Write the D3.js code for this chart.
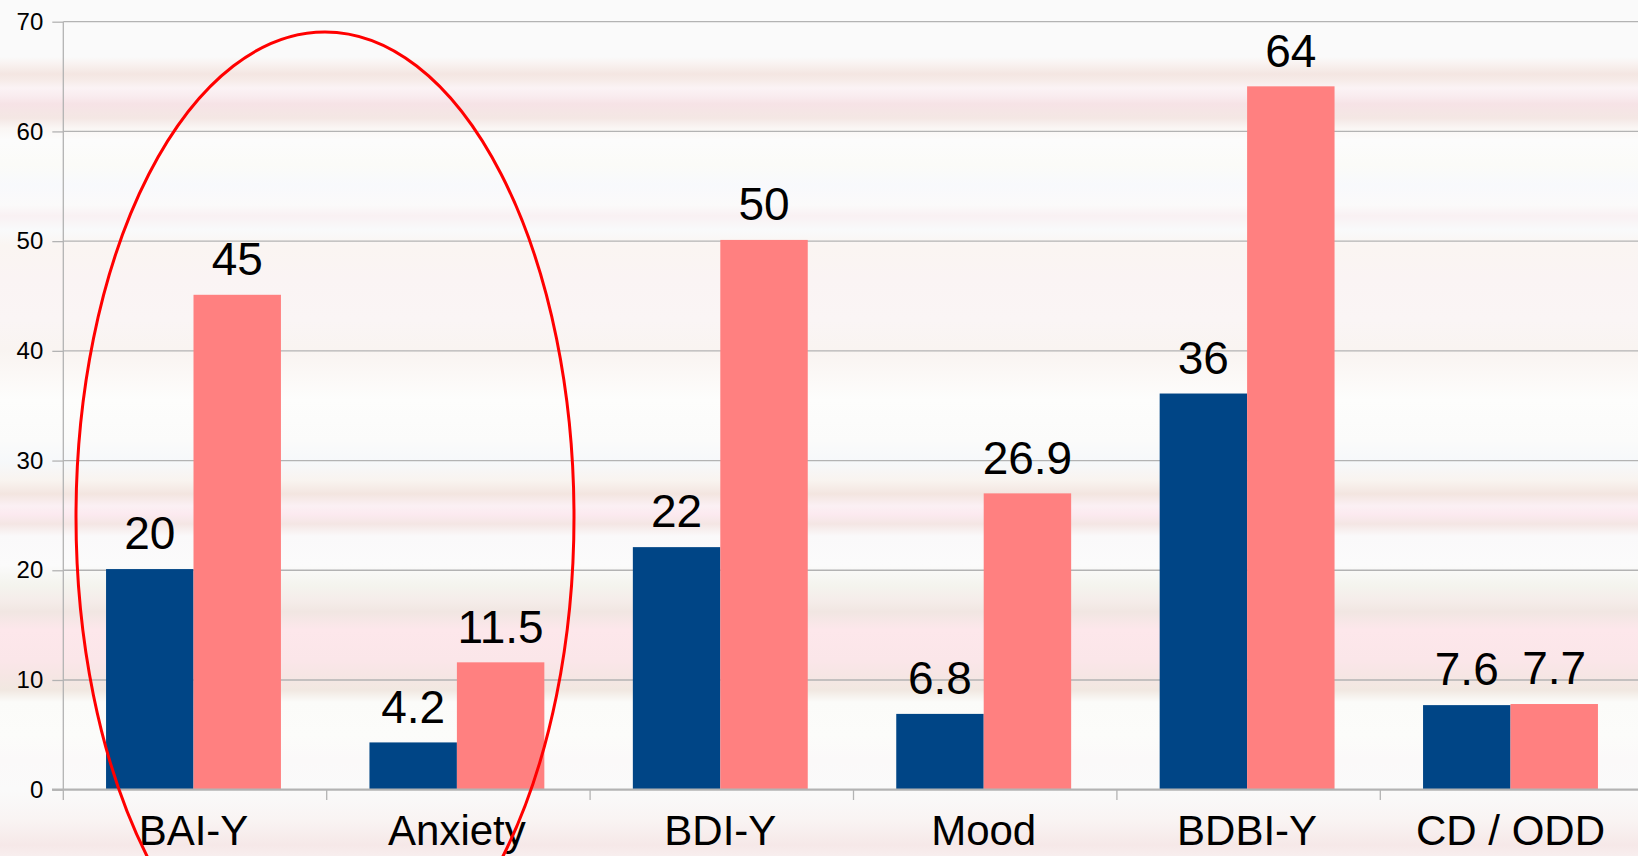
<!DOCTYPE html>
<html>
<head>
<meta charset="utf-8">
<script src="https://cdn.jsdelivr.net/npm/d3@7"></script>
<style>
  html, body { margin: 0; padding: 0; background: #fafafa; }
  svg { display: block; font-family: "Liberation Sans", Arial, sans-serif; }
</style>
</head>
<body>
<svg id="chart" width="1638" height="856"></svg>
<script>
const categories = ["BAI-Y", "Anxiety", "BDI-Y", "Mood", "BDBI-Y", "CD / ODD"];
const seriesNames = ["Group A", "Group B"];
const seriesA = [20, 4.2, 22, 6.8, 36, 7.6];
const seriesB = [45, 11.5, 50, 26.9, 64, 7.7];
const labelsA = ["20", "4.2", "22", "6.8", "36", "7.6"];
const labelsB = ["45", "11.5", "50", "26.9", "64", "7.7"];
const yTicks = [0, 10, 20, 30, 40, 50, 60, 70];

const W = 1638, H = 856;
const svg = d3.select("#chart");

// background stripes (styling only)
const bgStops = [
  [0, "#fafafa"], [57, "#fafafa"], [64, "#f9f2f0"], [74, "#f4e6e2"], [80, "#f6ebe8"],
  [88, "#fbf3f5"], [96, "#f9ecef"], [104, "#f6e3e6"], [118, "#f4e7e4"], [128, "#faf6f4"],
  [140, "#fcfcfc"], [165, "#fbfbf8"], [185, "#f8f9fc"], [205, "#fbfafa"], [216, "#f9f1f3"],
  [230, "#f9fafb"], [245, "#faf5f2"], [280, "#faf4f4"], [320, "#faf5f5"], [350, "#f9f4f1"],
  [372, "#fbf8f6"], [400, "#fdfdfc"], [440, "#fbfbfa"], [462, "#f6f8fa"], [480, "#f9f4f0"],
  [494, "#f3e5e0"], [506, "#fbf0f4"], [514, "#fceaf0"], [524, "#f4e6e4"], [536, "#faf9fa"],
  [565, "#fbfbfb"], [585, "#f4f4ee"], [600, "#f5edea"], [612, "#f1e6e2"], [630, "#fde7eb"],
  [660, "#fbe6e9"], [676, "#f6e6e4"], [690, "#f1e8e1"], [702, "#fbfbf9"], [735, "#fcfcfa"],
  [760, "#fbf9f9"], [790, "#fafafa"], [820, "#f9f4f3"], [845, "#f6e8e8"], [856, "#f8eeee"]
];
const defs = svg.append("defs");
const grad = defs.append("linearGradient").attr("id", "bg")
  .attr("x1", 0).attr("y1", 0).attr("x2", 0).attr("y2", 1);
grad.selectAll("stop").data(bgStops).enter().append("stop")
  .attr("offset", d => (d[0] / H))
  .attr("stop-color", d => d[1]);
svg.append("rect").attr("width", W).attr("height", H).attr("fill", "url(#bg)");

const axisX = 63.3;
const x0 = d3.scaleBand().domain(categories).range([axisX - 1.5, 1643.7 - 1.5])
  .paddingInner(0.336).paddingOuter(0.168);
const x1 = d3.scaleBand().domain(seriesNames).range([0, x0.bandwidth()]);
const y = d3.scaleLinear().domain([0, 70]).range([789.7, 21.7]);
const colors = { "Group A": "#004586", "Group B": "#ff8080" };

const gridColor = "#b3b3b3";

// gridlines
svg.append("g").selectAll("line").data(yTicks.filter(t => t > 0)).enter().append("line")
  .attr("x1", axisX).attr("x2", W)
  .attr("y1", d => y(d)).attr("y2", d => y(d))
  .attr("stroke", gridColor).attr("stroke-width", 1.3);

// y axis
const yAxis = d3.axisLeft(y).tickValues(yTicks).tickSize(11).tickPadding(9);
const gy = svg.append("g").attr("transform", `translate(${axisX},0)`).call(yAxis);
gy.select(".domain").remove();
gy.selectAll(".tick line").attr("stroke", gridColor).attr("stroke-width", 1.3);
gy.selectAll(".tick text").attr("font-size", 24).attr("fill", "#000")
  .attr("font-family", "Liberation Sans, Arial, sans-serif");
svg.append("line").attr("x1", axisX).attr("x2", axisX).attr("y1", y(70)).attr("y2", 800)
  .attr("stroke", gridColor).attr("stroke-width", 1.3);

// x axis boundary ticks
const step = x0.step();
const boundaries = categories.map((c, i) => i).slice(1);
svg.append("g").selectAll("line").data(boundaries).enter().append("line")
  .attr("x1", i => axisX + i * step).attr("x2", i => axisX + i * step)
  .attr("y1", y(0)).attr("y2", 800)
  .attr("stroke", gridColor).attr("stroke-width", 1.3);

// bars
const rows = categories.map((c, i) => ({ cat: c, vals: [
  { s: seriesNames[0], v: seriesA[i], label: labelsA[i] },
  { s: seriesNames[1], v: seriesB[i], label: labelsB[i] }
]}));
const groups = svg.append("g").selectAll("g").data(rows).enter().append("g")
  .attr("transform", d => `translate(${x0(d.cat)},0)`);
groups.selectAll("rect").data(d => d.vals).enter().append("rect")
  .attr("x", d => x1(d.s)).attr("width", x1.bandwidth())
  .attr("y", d => y(d.v) - 1.2).attr("height", d => y(0) - y(d.v) + 1.2)
  .attr("fill", d => colors[d.s]);
groups.selectAll("text").data(d => d.vals).enter().append("text")
  .attr("x", d => x1(d.s) + x1.bandwidth() / 2)
  .attr("y", d => y(d.v) - 21)
  .attr("text-anchor", "middle").attr("font-size", 46).attr("fill", "#000")
  .text(d => d.label);

// x axis line
svg.append("line").attr("x1", 52).attr("x2", W).attr("y1", y(0)).attr("y2", y(0))
  .attr("stroke", gridColor).attr("stroke-width", 2.2);

// category labels
svg.append("g").selectAll("text").data(categories).enter().append("text")
  .attr("x", d => x0(d) + x0.bandwidth() / 2)
  .attr("y", 845)
  .attr("text-anchor", "middle").attr("font-size", 42).attr("fill", "#000")
  .text(d => d);

// red ellipse annotation
svg.append("ellipse").attr("cx", 325).attr("cy", 517).attr("rx", 249).attr("ry", 485)
  .attr("fill", "none").attr("stroke", "#ff0000").attr("stroke-width", 3);
</script>
</body>
</html>
